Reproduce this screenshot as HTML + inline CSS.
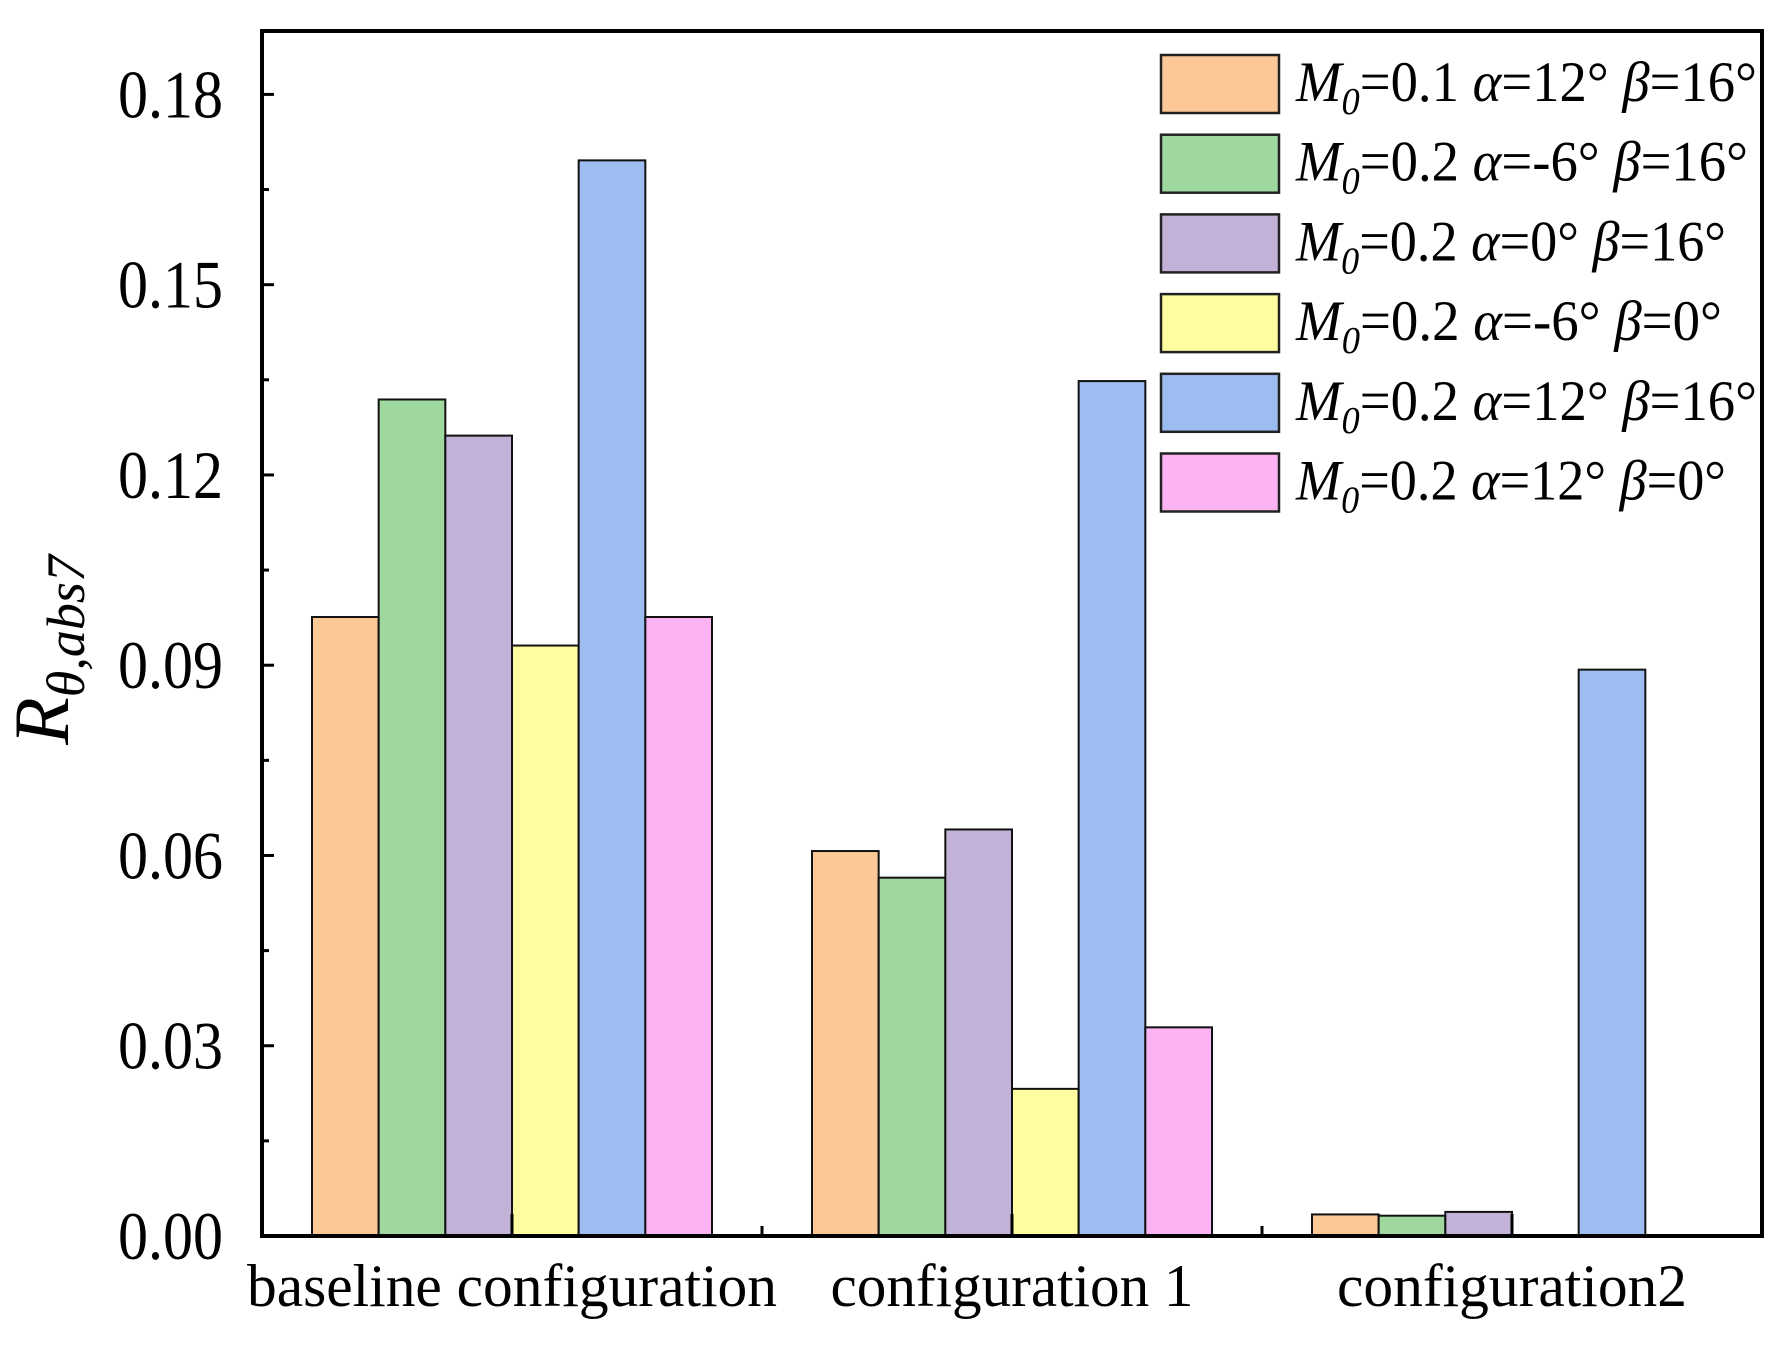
<!DOCTYPE html>
<html><head><meta charset="utf-8"><style>
html,body{margin:0;padding:0;background:#fff;}
svg{display:block;font-family:"Liberation Serif",serif;}
</style></head><body>
<svg id="chart" width="1790" height="1347" viewBox="0 0 1790 1347" xmlns="http://www.w3.org/2000/svg">
<g id="bars"></g>
<g id="axes"></g>
<g id="legend"></g>
<text transform="translate(68,650) rotate(-90)" text-anchor="middle" font-size="78" font-style="italic">R<tspan font-size="54" dy="16">θ,abs7</tspan></text>
</svg>
<script>
const categories = ["baseline configuration", "configuration 1", "configuration2"];
const seriesNames = ["M0=0.1 α=12° β=16°","M0=0.2 α=-6° β=16°","M0=0.2 α=0° β=16°","M0=0.2 α=-6° β=0°","M0=0.2 α=12° β=16°","M0=0.2 α=12° β=0°"];
const legendParts = [["0.1","12°","16°"],["0.2","-6°","16°"],["0.2","0°","16°"],["0.2","-6°","0°"],["0.2","12°","16°"],["0.2","12°","0°"]];
const s1 = [0.0976, 0.0607, 0.0034];
const s2 = [0.1319, 0.0565, 0.0032];
const s3 = [0.1262, 0.0641, 0.0038];
const s4 = [0.0931, 0.0232, 0];
const s5 = [0.1696, 0.1348, 0.0893];
const s6 = [0.0976, 0.0329, 0];
const yTicks = ["0.00","0.03","0.06","0.09","0.12","0.15","0.18"];
const series = [s1,s2,s3,s4,s5,s6];
const colors = ["#fcc896","#9ed89e","#c3b2d8","#fefea0","#9dbcf0","#fcb3f4"];
const NS="http://www.w3.org/2000/svg";
const L=262,R=1762,T=31,B=1236,yMax=0.19;
const y=v=>B-(v/yMax)*(B-T);
const catW=(R-L)/categories.length;
const xc=i=>L+catW*(i+0.5);
const barW=catW*0.8/series.length;
const catLen=[530,363,350];
const legLen=[461,452,430,426,461,430];
function mk(tag,attrs,parent){const e=document.createElementNS(NS,tag);for(const k in attrs)e.setAttribute(k,attrs[k]);parent.appendChild(e);return e;}
const gb=document.getElementById('bars'),ga=document.getElementById('axes'),gl=document.getElementById('legend');
series.forEach((s,si)=>{s.forEach((v,ci)=>{if(v<=0)return;
const x0=xc(ci)-catW*0.4+si*barW;
const r=mk('rect',{x:x0,y:y(v),width:barW,height:B-y(v),fill:colors[si],stroke:'#111','stroke-width':2},gb);


});});
const frame=mk('rect',{x:L,y:T,width:R-L,height:B-T,fill:'none',stroke:'#000','stroke-width':4},ga);


yTicks.forEach((t,i)=>{const v=parseFloat(t);const yy=y(v);
mk('line',{x1:L,x2:L+12,y1:yy,y2:yy,stroke:'#000','stroke-width':3},ga);
if(i<yTicks.length-1){const ym=y(v+0.015);mk('line',{x1:L,x2:L+7,y1:ym,y2:ym,stroke:'#000','stroke-width':3},ga);}
const tx=mk('text',{x:118,y:yy+23,'font-size':68,textLength:105,lengthAdjust:'spacingAndGlyphs'},ga);tx.textContent=t;


});
categories.forEach((c,i)=>{
mk('line',{x1:xc(i),x2:xc(i),y1:B,y2:B-22,stroke:'#000','stroke-width':3},ga);
if(i>0){const xb=L+catW*i;mk('line',{x1:xb,x2:xb,y1:B,y2:B-10,stroke:'#000','stroke-width':3},ga);}
const tx=mk('text',{x:xc(i)-catLen[i]/2,y:1306,'font-size':60,textLength:catLen[i],lengthAdjust:'spacingAndGlyphs'},ga);tx.textContent=c;


});
legendParts.forEach((p,i)=>{const yy=55+i*79.7;
const r=mk('rect',{x:1161,y:yy,width:118,height:58,fill:colors[i],stroke:'#222','stroke-width':2.5},gl);


const t=mk('text',{x:1296,y:yy+46,'font-size':57,textLength:legLen[i],lengthAdjust:'spacingAndGlyphs'},gl);


t.innerHTML='<tspan font-style="italic">M</tspan><tspan font-style="italic" font-size="38" dy="13">0</tspan><tspan dy="-13">='+p[0]+' </tspan><tspan font-style="italic">α</tspan>='+p[1]+' <tspan font-style="italic">β</tspan>='+p[2];
});
</script>
</body></html>
